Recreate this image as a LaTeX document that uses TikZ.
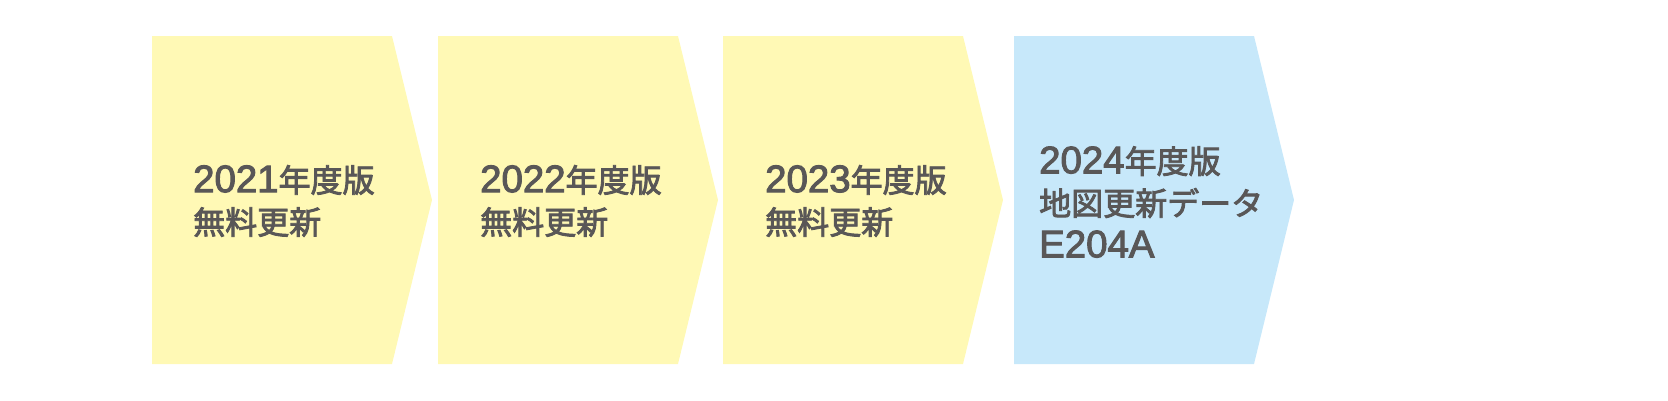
\documentclass[tikz,border=0pt]{standalone}
\usepackage{fontspec}
\setmainfont{Noto Sans CJK JP}[FakeBold=2.6]
\newfontfamily\lat{Liberation Sans}[Scale=1.2,FakeBold=2.6]
\definecolor{yel}{HTML}{FFF9B5}
\definecolor{blu}{HTML}{C7E8FA}
\definecolor{txt}{HTML}{595757}
\begin{document}
\begin{tikzpicture}[x=1pt,y=-1pt,
  lbl/.style={anchor=west,inner sep=0pt,align=left,text=txt,font=\fontsize{32}{42}\selectfont}]
\useasboundingbox (0,0) rectangle (1668,400);
\fill[yel] (152,36) -- (392,36) -- (432,200) -- (392,364) -- (152,364) -- cycle;
\fill[yel] (438,36) -- (678,36) -- (718,200) -- (678,364) -- (438,364) -- cycle;
\fill[yel] (723,36) -- (963,36) -- (1003,200) -- (963,364) -- (723,364) -- cycle;
\fill[blu] (1014,36) -- (1254,36) -- (1294,200) -- (1254,364) -- (1014,364) -- cycle;
\node[lbl] (t1) at (193,201) {{\lat 2021}年度版\\無料更新};
\node[lbl] (t2) at (480,201) {{\lat 2022}年度版\\無料更新};
\node[lbl] (t3) at (765,201) {{\lat 2023}年度版\\無料更新};
\node[lbl] (t4) at (1039,202) {{\lat 2024}年度版\\地図更新データ\\{\lat E204A}};
\end{tikzpicture}
\end{document}
